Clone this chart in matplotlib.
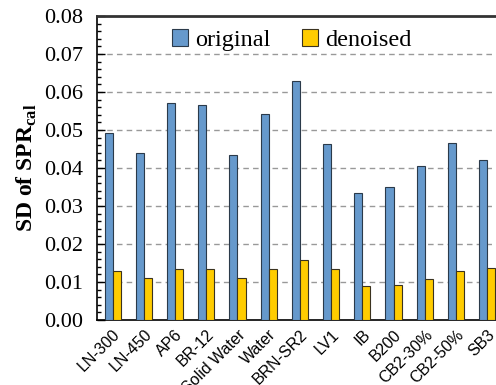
"""SD of SPR_cal per material, original vs denoised, as a grouped bar chart."""
import numpy as np
import matplotlib
matplotlib.use('Agg')
import matplotlib.pyplot as plt
from matplotlib.ticker import MultipleLocator

# Data
materials = ['LN-300', 'LN-450', 'AP6', 'BR-12', 'Solid Water', 'Water', 'BRN-SR2',
             'LV1', 'IB', 'B200', 'CB2-30%', 'CB2-50%', 'SB3']
original = [0.0493, 0.0439, 0.0572, 0.0566, 0.0435, 0.0542, 0.0628,
            0.0463, 0.0333, 0.0351, 0.0406, 0.0465, 0.0420]
denoised = [0.0130, 0.0110, 0.0133, 0.0133, 0.0111, 0.0133, 0.0159,
            0.0135, 0.0089, 0.0092, 0.0107, 0.0130, 0.0137]

serif = 'Liberation Serif'
sans = 'Liberation Sans'
plt.rcParams['mathtext.fontset'] = 'custom'
plt.rcParams['mathtext.bf'] = 'Liberation Serif:bold'

fig = plt.figure(figsize=(4.96, 3.85), dpi=100)
# axes runs a little past the right edge, like the cropped original
ax = fig.add_axes([0.1956, 0.1688, 0.818, 0.7896])

x = np.arange(len(materials))
w = 0.26
ax.bar(x - w / 2, original, width=w, color='#6699cc', edgecolor='#2b3a4a',
       linewidth=0.8, label='original', zorder=3)
ax.bar(x + w / 2, denoised, width=w, color='#ffcc00', edgecolor='#3a3320',
       linewidth=0.8, label='denoised', zorder=3)

ax.set_xlim(-0.5, len(materials) - 0.5)
ax.set_ylim(0, 0.08)
ax.yaxis.set_major_locator(MultipleLocator(0.01))
ax.yaxis.set_minor_locator(MultipleLocator(0.002))
ax.yaxis.set_major_formatter(plt.FuncFormatter(lambda v, p: f'{v:.2f}'))
ax.tick_params(axis='y', which='major', direction='in', length=6, width=1,
               labelsize=16, pad=10)
ax.tick_params(axis='y', which='minor', direction='in', length=3, width=1)
for lab in ax.get_yticklabels():
    lab.set_fontfamily(serif)

ax.set_xticks(x)
ax.set_xticklabels(materials, rotation=45, ha='right', va='top',
                   rotation_mode='anchor', fontfamily=sans, fontsize=11.5)
ax.tick_params(axis='x', length=0, pad=5)

# dashed grid at every 0.01, none at the top line
for yv in np.arange(0.01, 0.075, 0.01):
    ax.axhline(yv, color='#999999', linestyle=(0, (4, 3)), linewidth=1, zorder=1)

ax.spines['right'].set_visible(False)
ax.spines['top'].set_linewidth(2)
ax.spines['top'].set_color('#333333')
ax.spines['left'].set_linewidth(1.2)
ax.spines['bottom'].set_linewidth(1.2)

ax.set_ylabel(r'SD of SPR$_{\mathbf{cal}}$', fontfamily=serif, fontsize=17,
              fontweight='bold', labelpad=4)

ax.legend(loc='upper center', bbox_to_anchor=(0.48, 1.0), ncol=2, frameon=False,
          prop={'family': serif, 'size': 17.5}, handlelength=0.65, handleheight=0.65,
          handletextpad=0.3, columnspacing=1.3, borderaxespad=0.15)

fig.savefig('out.png', dpi=100)
